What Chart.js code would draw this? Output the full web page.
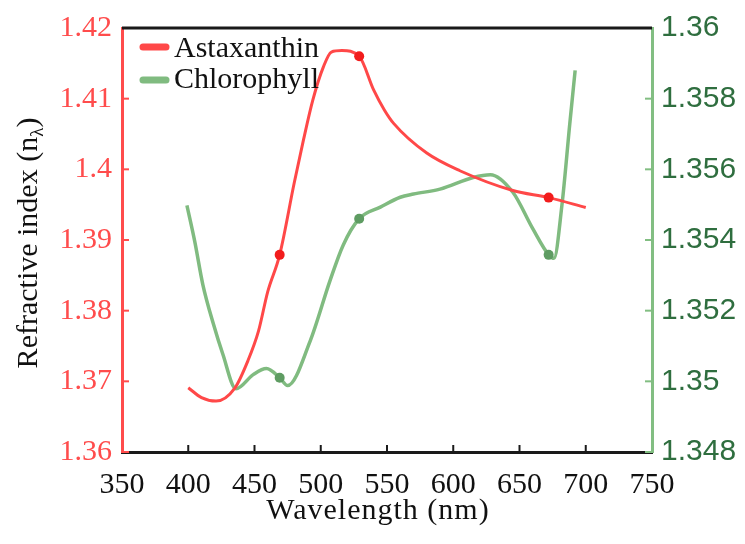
<!DOCTYPE html>
<html lang="en">
<head>
    <meta charset="UTF-8">
    <title>Refractive index vs wavelength</title>
    <script src="https://cdn.jsdelivr.net/npm/chart.js"></script>
    <style>
        html, body { margin: 0; padding: 0; background: #fff; }
        .chart-box { width: 745px; height: 544px; position: relative; }
    </style>
</head>
<body>
    <div class="chart-box"><canvas id="riChart"></canvas></div>
    <script>
    // values
    const astaWl = [400, 410, 421, 435, 445, 453, 460, 469, 480, 487, 494, 502, 508, 516, 529, 540, 548, 555, 580, 605, 645, 672, 700];
    const astaxanthin = [1.3691, 1.3677, 1.3672, 1.3690, 1.3729, 1.3771, 1.3827, 1.3879, 1.3981, 1.4042, 1.4098, 1.4145, 1.4166, 1.4168, 1.4160, 1.4112, 1.4084, 1.4065, 1.4023, 1.3998, 1.3970, 1.3960, 1.3946];
    const chlWl = [399, 405, 411, 419, 426, 436, 449, 459, 469, 475, 492, 507, 517, 529, 545, 560, 570, 590, 615, 628, 645, 660, 672, 676, 682, 688, 692];
    const chlorophyll = [1.35498, 1.35394, 1.35274, 1.35162, 1.35078, 1.34979, 1.35019, 1.35036, 1.35010, 1.34988, 1.35114, 1.35285, 1.35386, 1.35460, 1.35493, 1.35521, 1.35530, 1.35544, 1.35577, 1.35585, 1.35535, 1.35432, 1.35358, 1.35348, 1.35498, 1.35731, 1.35880];
    const markerWl = [469, 529, 672];
    const seriesNames = ['Astaxanthin', 'Chlorophyll'];

    const serif = '"Liberation Serif", "Times New Roman", serif';
    const sans = '"Liberation Sans", Arial, sans-serif';

    function toPoints(xs, ys) {
        return xs.map((x, i) => ({ x: x, y: ys[i] }));
    }
    function markerRadius(ctx) {
        return ctx.raw && markerWl.includes(ctx.raw.x) ? 5 : 0;
    }
    function trimNum(v) {
        return String(Number(v.toFixed(4)));
    }

    // inward ticks, top frame, axis titles and the legend
    const axisExtras = {
        id: 'axisExtras',
        afterDraw(chart) {
            const ctx = chart.ctx;
            const area = chart.chartArea;
            const sx = chart.scales.x, yl = chart.scales.yL, yr = chart.scales.yR;
            ctx.save();
            ctx.lineWidth = 2;
            ctx.strokeStyle = '#1a1a1a';
            sx.ticks.forEach(t => {
                if (t.value <= sx.min || t.value >= sx.max) return;
                const p = sx.getPixelForValue(t.value);
                ctx.beginPath(); ctx.moveTo(p, area.bottom); ctx.lineTo(p, area.bottom - 7); ctx.stroke();
            });
            ctx.strokeStyle = '#ff4c4c';
            yl.ticks.forEach(t => {
                const p = yl.getPixelForValue(t.value);
                ctx.beginPath(); ctx.moveTo(area.left, p); ctx.lineTo(area.left + 7, p); ctx.stroke();
            });
            ctx.strokeStyle = '#82be82';
            yr.ticks.forEach(t => {
                const p = yr.getPixelForValue(t.value);
                ctx.beginPath(); ctx.moveTo(area.right, p); ctx.lineTo(area.right - 7, p); ctx.stroke();
            });
            // top frame line
            ctx.strokeStyle = '#1a1a1a';
            ctx.lineWidth = 3;
            ctx.beginPath(); ctx.moveTo(area.left, area.top); ctx.lineTo(area.right, area.top); ctx.stroke();

            // x title
            ctx.fillStyle = '#111';
            ctx.font = '30px ' + serif;
            ctx.textAlign = 'center';
            ctx.textBaseline = 'alphabetic';
            ctx.letterSpacing = '1px';
            ctx.fillText('Wavelength (nm)', 378, 519);
            ctx.letterSpacing = '0px';

            // y title with subscript lambda
            ctx.save();
            ctx.translate(37, 243);
            ctx.rotate(-Math.PI / 2);
            ctx.textAlign = 'left';
            const main = 'Refractive index (n';
            ctx.font = '30px ' + serif;
            const w1 = ctx.measureText(main).width;
            const w3 = ctx.measureText(')').width;
            ctx.font = '19px ' + serif;
            const w2 = ctx.measureText('\u03bb').width;
            let start = -(w1 + w2 + w3) / 2;
            ctx.font = '30px ' + serif;
            ctx.fillText(main, start, 0);
            ctx.font = '19px ' + serif;
            ctx.fillText('\u03bb', start + w1, 6);
            ctx.font = '30px ' + serif;
            ctx.fillText(')', start + w1 + w2, 0);
            ctx.restore();

            // legend in the top left corner
            ctx.lineCap = 'round';
            ctx.lineWidth = 7;
            ctx.font = '30px ' + serif;
            ctx.textAlign = 'left';
            chart.data.datasets.forEach((ds, i) => {
                const ly = 47 + i * 33;
                ctx.strokeStyle = ds.borderColor;
                ctx.beginPath(); ctx.moveTo(143, ly); ctx.lineTo(166, ly); ctx.stroke();
                ctx.fillStyle = '#111';
                ctx.fillText(ds.label, 174, 57 + i * 31);
            });
            ctx.restore();
        }
    };

    new Chart(document.getElementById('riChart'), {
        type: 'line',
        data: {
            datasets: [
                {
                    label: seriesNames[0],
                    data: toPoints(astaWl, astaxanthin),
                    yAxisID: 'yL',
                    borderColor: '#ff4848',
                    borderWidth: 3,
                    cubicInterpolationMode: 'monotone',
                    pointRadius: markerRadius,
                    pointBackgroundColor: '#f21c1c',
                    pointBorderWidth: 0
                },
                {
                    label: seriesNames[1],
                    data: toPoints(chlWl, chlorophyll),
                    yAxisID: 'yR',
                    borderColor: '#80bb80',
                    borderWidth: 3.5,
                    cubicInterpolationMode: 'monotone',
                    pointRadius: markerRadius,
                    pointBackgroundColor: '#5e9c62',
                    pointBorderWidth: 0
                }
            ]
        },
        options: {
            responsive: true,
            maintainAspectRatio: false,
            animation: false,
            layout: { padding: { top: 24, left: 0, right: 0, bottom: 0 } },
            plugins: { legend: { display: false }, tooltip: { enabled: false } },
            scales: {
                x: {
                    type: 'linear', min: 350, max: 750,
                    ticks: { stepSize: 50, padding: 15, color: '#111', font: { family: serif, size: 30 } },
                    grid: { display: false, drawTicks: false },
                    border: { color: '#1a1a1a', width: 3 },
                    afterFit: s => { s.height = 92; }
                },
                yL: {
                    position: 'left', min: 1.36, max: 1.42,
                    ticks: { stepSize: 0.01, padding: 10, color: '#ff4c4c', font: { family: serif, size: 30 }, callback: trimNum },
                    grid: { display: false, drawTicks: false },
                    border: { color: '#ff4c4c', width: 3 },
                    afterFit: s => { s.width = 122; }
                },
                yR: {
                    position: 'right', min: 1.348, max: 1.36,
                    ticks: { stepSize: 0.002, padding: 9, color: '#2f6e3f', font: { family: sans, size: 30 }, callback: trimNum },
                    grid: { display: false, drawTicks: false },
                    border: { color: '#82be82', width: 3 },
                    afterFit: s => { s.width = 93; }
                }
            }
        },
        plugins: [axisExtras]
    });
    </script>
</body>
</html>
